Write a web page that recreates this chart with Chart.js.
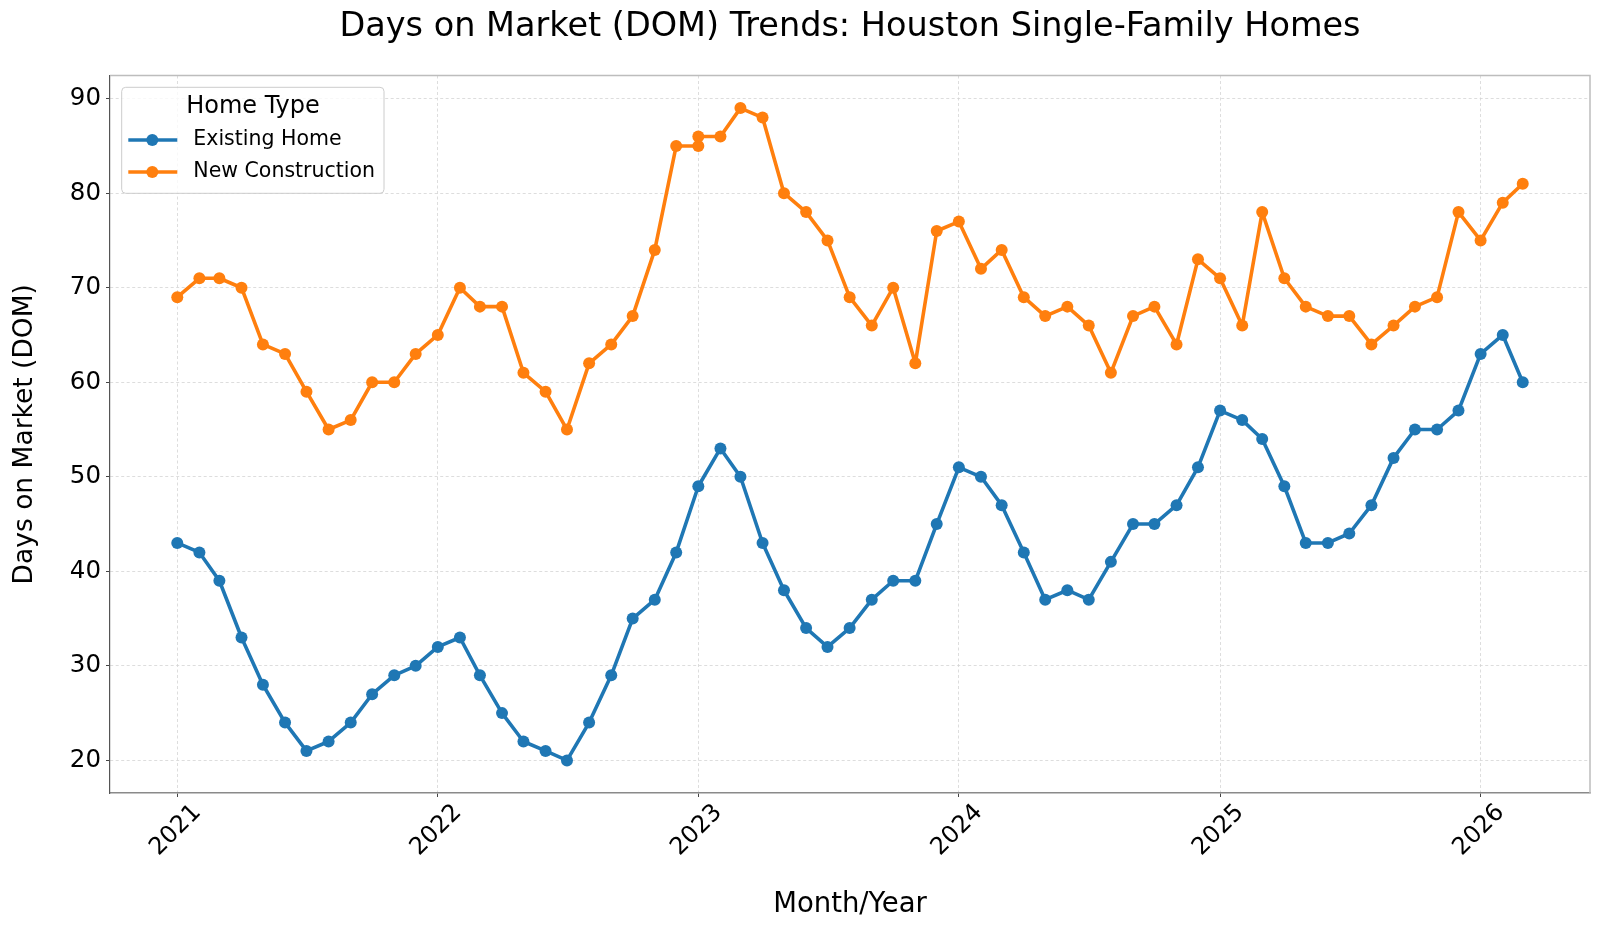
<!DOCTYPE html>
<html>
<head>
<meta charset="utf-8">
<script src="https://cdn.jsdelivr.net/npm/chart.js@4.4.1/dist/chart.umd.min.js"></script>
<style>
  html, body { margin: 0; padding: 0; background: #ffffff; }
  #wrap { width: 1600px; height: 933px; }
</style>
</head>
<body>
<div id="wrap"><canvas id="chart" width="1600" height="933"></canvas></div>
<script>
// ---------------- data ----------------
const months = [
  "2021-01","2021-02","2021-03","2021-04","2021-05","2021-06","2021-07","2021-08","2021-09","2021-10","2021-11","2021-12",
  "2022-01","2022-02","2022-03","2022-04","2022-05","2022-06","2022-07","2022-08","2022-09","2022-10","2022-11","2022-12",
  "2023-01","2023-02","2023-03","2023-04","2023-05","2023-06","2023-07","2023-08","2023-09","2023-10","2023-11","2023-12",
  "2024-01","2024-02","2024-03","2024-04","2024-05","2024-06","2024-07","2024-08","2024-09","2024-10","2024-11","2024-12",
  "2025-01","2025-02","2025-03","2025-04","2025-05","2025-06","2025-07","2025-08","2025-09","2025-10","2025-11","2025-12",
  "2026-01","2026-02","2026-03"
];
// the New Construction series carries two readings for January 2023
const newConstructionMonths = [
  "2021-01","2021-02","2021-03","2021-04","2021-05","2021-06","2021-07","2021-08","2021-09","2021-10","2021-11","2021-12",
  "2022-01","2022-02","2022-03","2022-04","2022-05","2022-06","2022-07","2022-08","2022-09","2022-10","2022-11","2022-12",
  "2023-01","2023-01","2023-02","2023-03","2023-04","2023-05","2023-06","2023-07","2023-08","2023-09","2023-10","2023-11","2023-12",
  "2024-01","2024-02","2024-03","2024-04","2024-05","2024-06","2024-07","2024-08","2024-09","2024-10","2024-11","2024-12",
  "2025-01","2025-02","2025-03","2025-04","2025-05","2025-06","2025-07","2025-08","2025-09","2025-10","2025-11","2025-12",
  "2026-01","2026-02","2026-03"
];
const existingHome = [
  43,42,39,33,28,24,21,22,24,27,29,30,
  32,33,29,25,22,21,20,24,29,35,37,42,
  49,53,50,43,38,34,32,34,37,39,39,45,
  51,50,47,42,37,38,37,41,45,45,47,51,
  57,56,54,49,43,43,44,47,52,55,55,57,
  63,65,60
];
const newConstruction = [
  69,71,71,70,64,63,59,55,56,60,60,63,
  65,70,68,68,61,59,55,62,64,67,74,85,
  85,86,86,89,88,80,78,75,69,66,70,62,76,
  77,72,74,69,67,68,66,61,67,68,64,73,
  71,66,78,71,68,67,67,64,66,68,69,78,
  75,79,81
];
const yearTickLabels = ["2021","2022","2023","2024","2025","2026"];
const yTickValues = [20,30,40,50,60,70,80,90];
const seriesNames = ["Existing Home","New Construction"];
const legendTitle = "Home Type";
const chartTitle = "Days on Market (DOM) Trends: Houston Single-Family Homes";
const xAxisTitle = "Month/Year";
const yAxisTitle = "Days on Market (DOM)";

// ---------------- helpers ----------------
const FONT = "'DejaVu Sans', 'Open Sans', sans-serif";
const BLUE = "#1f77b4";
const ORANGE = "#ff7f0e";
const toDay = s => { const p = s.split("-").map(Number); return Date.UTC(p[0], p[1] - 1, 1) / 864e5; };

const exData = months.map((m, i) => ({ x: toDay(m), y: existingHome[i] }));
const ncData = newConstructionMonths.map((m, i) => ({ x: toDay(m), y: newConstruction[i] }));

const allX = exData.concat(ncData).map(p => p.x);
const allY = exData.concat(ncData).map(p => p.y);
const xMin = Math.min(...allX), xMax = Math.max(...allX);
const yMin = Math.min(...allY), yMax = Math.max(...allY);
const xPad = 0.05 * (xMax - xMin), yPad = 0.05 * (yMax - yMin);

// top / right frame lines
const framePlugin = {
  id: "frame",
  afterDraw(chart) {
    const { ctx, chartArea: a } = chart;
    ctx.save();
    ctx.strokeStyle = "#bdbdbd";
    ctx.lineWidth = 1.5;
    ctx.beginPath();
    ctx.moveTo(a.left, a.top);
    ctx.lineTo(a.right, a.top);
    ctx.lineTo(a.right, a.bottom);
    ctx.stroke();
    ctx.restore();
  }
};

// legend inside the plot, upper-left
const legendPlugin = {
  id: "innerLegend",
  afterDraw(chart) {
    const { ctx, chartArea: a } = chart;
    const bx = a.left + 11.7, by = a.top + 11.8, bw = 262.3, bh = 106, r = 4;
    ctx.save();
    ctx.beginPath();
    ctx.moveTo(bx + r, by);
    ctx.lineTo(bx + bw - r, by);
    ctx.quadraticCurveTo(bx + bw, by, bx + bw, by + r);
    ctx.lineTo(bx + bw, by + bh - r);
    ctx.quadraticCurveTo(bx + bw, by + bh, bx + bw - r, by + bh);
    ctx.lineTo(bx + r, by + bh);
    ctx.quadraticCurveTo(bx, by + bh, bx, by + bh - r);
    ctx.lineTo(bx, by + r);
    ctx.quadraticCurveTo(bx, by, bx + r, by);
    ctx.closePath();
    ctx.fillStyle = "rgba(255,255,255,0.8)";
    ctx.fill();
    ctx.strokeStyle = "#cccccc";
    ctx.lineWidth = 1;
    ctx.stroke();

    ctx.fillStyle = "#000";
    ctx.textBaseline = "middle";
    ctx.textAlign = "center";
    ctx.font = "24px " + FONT;
    ctx.fillText(legendTitle, bx + 131.3, by + 19.5);

    chart.data.datasets.forEach((ds, i) => {
      const yy = by + 52.7 + i * 32;
      ctx.strokeStyle = ds.borderColor;
      ctx.lineWidth = 3.6;
      ctx.beginPath();
      ctx.moveTo(bx + 6.6, yy);
      ctx.lineTo(bx + 55.6, yy);
      ctx.stroke();
      ctx.fillStyle = ds.borderColor;
      ctx.beginPath();
      ctx.arc(bx + 30.6, yy, 6, 0, Math.PI * 2);
      ctx.fill();
      ctx.fillStyle = "#000";
      ctx.textAlign = "left";
      ctx.font = "20.5px " + FONT;
      ctx.fillText(ds.label, bx + 71.6, yy);
    });
    ctx.restore();
  }
};

const lineStyle = color => ({
  borderColor: color,
  backgroundColor: color,
  pointBackgroundColor: color,
  pointBorderColor: color,
  borderWidth: 3.6,
  pointRadius: 6,
  pointHoverRadius: 6,
  pointBorderWidth: 0,
  tension: 0,
  fill: false,
  borderJoinStyle: "round",
  borderCapStyle: "round"
});

new Chart(document.getElementById("chart").getContext("2d"), {
  type: "line",
  data: {
    datasets: [
      Object.assign({ label: seriesNames[0], data: exData }, lineStyle(BLUE)),
      Object.assign({ label: seriesNames[1], data: ncData }, lineStyle(ORANGE))
    ]
  },
  options: {
    responsive: false,
    animation: false,
    devicePixelRatio: 1,
    events: [],
    layout: { autoPadding: false, padding: { left: 5, right: 10, top: 0, bottom: 8 } },
    plugins: {
      legend: { display: false },
      tooltip: { enabled: false },
      title: {
        display: true,
        fullSize: false,
        text: chartTitle,
        color: "#000",
        font: { family: FONT, size: 33.5, weight: "normal", lineHeight: 1.2 },
        padding: { top: 7.4, bottom: 27.9 }
      }
    },
    scales: {
      x: {
        type: "linear",
        min: xMin - xPad,
        max: xMax + xPad,
        afterBuildTicks: s => { s.ticks = yearTickLabels.map(y => ({ value: toDay(y + "-01") })); },
        afterFit: s => { s.height = 132; },
        ticks: {
          autoSkip: false,
          minRotation: 45,
          maxRotation: 45,
          labelOffset: 20,
          padding: 1.5,
          color: "#000",
          font: { family: FONT, size: 24 },
          callback: (v, i) => yearTickLabels[i]
        },
        grid: { color: "#d4d4d4", lineWidth: 0.8, tickLength: 4, tickColor: "#444", tickWidth: 1 },
        border: { display: true, color: "#8a8a8a", width: 1.5, dash: [3, 2.5] },
        title: {
          display: true, text: xAxisTitle, color: "#000",
          font: { family: FONT, size: 27.5, lineHeight: 1.2 }, padding: { top: 0, bottom: 4 }
        }
      },
      y: {
        type: "linear",
        min: yMin - yPad,
        max: yMax + yPad,
        afterBuildTicks: s => { s.ticks = yTickValues.map(v => ({ value: v })); },
        afterFit: s => { s.width = 105; },
        ticks: {
          padding: 5,
          color: "#000",
          font: { family: FONT, size: 24.5 }
        },
        grid: { color: "#d4d4d4", lineWidth: 0.8, tickLength: 4, tickColor: "#444", tickWidth: 1 },
        border: { display: true, color: "#555", width: 1.2, dash: [3, 2.5] },
        title: {
          display: true, text: yAxisTitle, color: "#000",
          font: { family: FONT, size: 26.5, lineHeight: 1.2 }, padding: { top: 4, bottom: 4 }
        }
      }
    }
  },
  plugins: [framePlugin, legendPlugin]
});
</script>
</body>
</html>
